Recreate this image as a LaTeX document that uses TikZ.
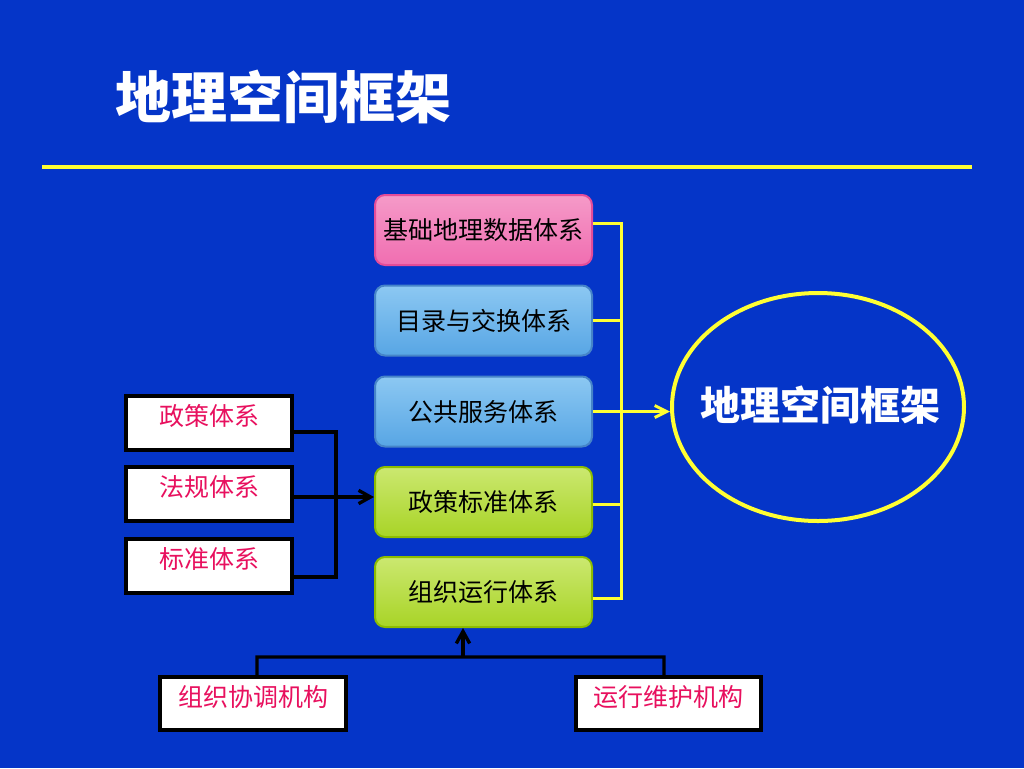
\documentclass[tikz,border=0pt]{standalone}
\usepackage{fontspec}
\setmainfont{Noto Sans CJK SC}
\usetikzlibrary{arrows.meta,shapes.geometric}
\definecolor{bgblue}{HTML}{0535C8}
\definecolor{pinkmain}{HTML}{EE5AA6}
\definecolor{pinklight}{HTML}{F59AC8}
\definecolor{pinkedge}{HTML}{E44C98}
\definecolor{bluemain}{HTML}{3A96E0}
\definecolor{bluelight}{HTML}{8CC8F2}
\definecolor{blueedge}{HTML}{4684C8}
\definecolor{greenmain}{HTML}{99CC00}
\definecolor{greenlight}{HTML}{CBE870}
\definecolor{greenedge}{HTML}{8CBC00}
\definecolor{redtext}{HTML}{E8105E}
\definecolor{ylw}{HTML}{FFFF33}
\tikzset{
  x=0.75pt, y=-0.75pt,
  sysbox/.style={rounded corners=7.5pt, minimum width=162.75pt, minimum height=52.5pt,
     inner sep=0pt, font=\fontsize{18.75pt}{20pt}\selectfont, text=black, line width=1.5pt},
  pinkbox/.style={sysbox, draw=pinkedge, top color=pinklight, middle color=pinkmain, bottom color=pinkmain!88!white},
  bluebox/.style={sysbox, draw=blueedge, top color=bluelight, middle color=bluemain, bottom color=bluemain!85!white},
  greenbox/.style={sysbox, draw=greenedge, top color=greenlight, middle color=greenmain, bottom color=greenmain!85!white},
  whitebox/.style={draw=black, fill=white, line width=3pt, inner sep=0pt,
     font=\fontsize{18.75pt}{20pt}\selectfont, text=redtext, text height=14pt, text depth=10pt},
  ylink/.style={draw=ylw, line width=2.25pt},
  blink/.style={draw=black, line width=2.5pt},
}
\begin{document}
\begin{tikzpicture}
\fill[bgblue] (0,0) rectangle (1024,768);
\useasboundingbox (0,0) rectangle (1024,768);
% title
\node[text=white, font=\fontsize{42pt}{44pt}\selectfont\bfseries, inner sep=0pt] (title) at (283,97) {地理空间框架};
\coordinate (tl) at (42,167);
\coordinate (tr) at (972,167);
\draw[draw=ylw, line width=3pt] (tl) -- (tr);
% central boxes
\node[pinkbox] (b1) at (483.5,230) {基础地理数据体系};
\node[bluebox] (b2) at (483.5,320.5) {目录与交换体系};
\node[bluebox] (b3) at (483.5,411.5) {公共服务体系};
\node[greenbox] (b4) at (483.5,502) {政策标准体系};
\node[greenbox] (b5) at (483.5,592) {组织运行体系};
% ellipse
\node[ellipse, draw=ylw, line width=3pt, minimum width=219pt, minimum height=171pt, inner sep=0pt] (frame) at (818,407) {};
\node[text=white, font=\fontsize{30pt}{32pt}\selectfont\bfseries, inner sep=0pt] (frametext) at (820,405) {地理空间框架};
% left boxes
\node[whitebox, minimum width=124.5pt, minimum height=40.5pt] (l1) at (209,423) {政策体系};
\node[whitebox, minimum width=124.5pt, minimum height=40.5pt] (l2) at (209,494) {法规体系};
\node[whitebox, minimum width=124.5pt, minimum height=40.5pt] (l3) at (209,566) {标准体系};
% bottom boxes
\node[whitebox, minimum width=139.5pt, minimum height=39.75pt] (o1) at (253,703.5) {组织协调机构};
\node[whitebox, minimum width=138.75pt, minimum height=39.75pt] (o2) at (668.5,703.5) {运行维护机构};
% yellow connectors
\coordinate (vtop) at (621,223);
\coordinate (vbot) at (621,598);
\coordinate (vmid) at (621,411.5);
\draw[ylink] ([yshift=5.25pt]b1.east) -- (vtop) -- (vbot) -- ([yshift=-4.5pt]b5.east);
\draw[ylink] (b2.east) -- (b2.east -| vtop);
\draw[ylink] (b3.east) -- (vmid);
\draw[ylink] ([yshift=-1.5pt]b4.east) -- ([yshift=-1.5pt]b4.east -| vtop);
\draw[ylink, -{Straight Barb[length=9pt,width=9pt]}] (vmid) -- (vmid -| frame.west);
% left black connectors
\coordinate (lj1) at (336,432);
\coordinate (lj3) at (336,577);
\draw[blink] ([yshift=-6.75pt]l1.east) -- (lj1) -- (lj3) -- ([yshift=-8.25pt]l3.east);
\draw[blink, -{Straight Barb[length=9pt,width=10pt]}] ([yshift=-2.25pt]l2.east) -- ([yshift=-2.25pt]l2.east -| b4.west);
% bottom black connectors
\coordinate (bj1) at (257,657);
\coordinate (bj2) at (664,657);
\coordinate (bjm) at (463,657);
\draw[blink] ([xshift=3pt]o1.north) -- (bj1) -- (bj2) -- ([xshift=-3.4pt]o2.north);
\draw[blink, -{Straight Barb[length=9pt,width=10pt]}] (bjm) -- (bjm |- b5.south);
\end{tikzpicture}
\end{document}
